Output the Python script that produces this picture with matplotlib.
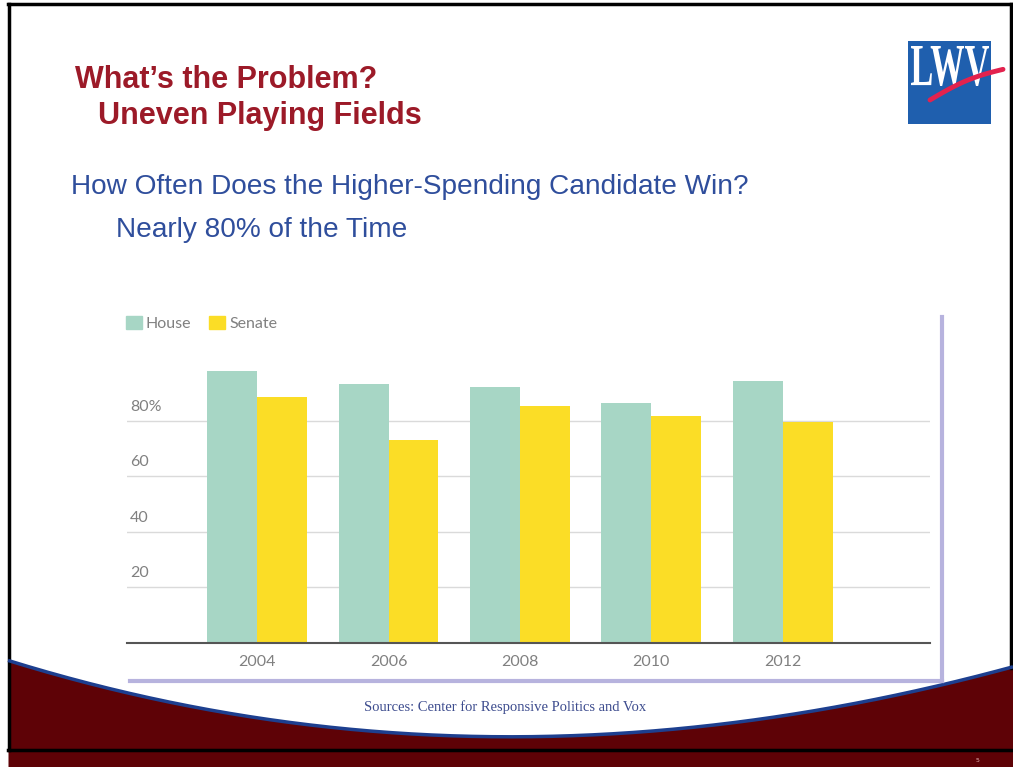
import numpy as np
import matplotlib
matplotlib.use("Agg")
import matplotlib.pyplot as plt
from matplotlib.patches import Rectangle, Patch, PathPatch
from matplotlib.textpath import TextPath
from matplotlib.font_manager import FontProperties
from matplotlib.transforms import Affine2D, ScaledTranslation

# share of races won by the higher-spending candidate (%)
years = ["2004", "2006", "2008", "2010", "2012"]
house = [97.8, 93.2, 92.1, 86.3, 94.2]
senate = [88.5, 73.0, 85.3, 81.7, 79.5]
grid_values = [20, 40, 60, 80]
grid_labels = ["20", "40", "60", "80%"]

W, H = 1013, 767
fig = plt.figure(figsize=(W / 100, H / 100), dpi=100)
fig.patch.set_facecolor("white")

# full-slide layer in pixel units (y grows downward)
bg = fig.add_axes([0, 0, 1, 1])
bg.set_xlim(0, W)
bg.set_ylim(H, 0)
bg.axis("off")

# slide border
bg.plot([8, 1011], [4, 4], color="black", lw=2.5)
bg.plot([9, 9], [4, 750], color="black", lw=2.5)
bg.plot([1011, 1011], [4, 668], color="black", lw=2.5)

# curved maroon footer
cx = [8, 100, 200, 300, 500, 700, 850, 1013]
cy = [657, 690, 712, 721, 733, 727, 708, 665]
coef = np.polyfit(cx, cy, 3)
xs = np.linspace(8, W, 300)
ys = np.polyval(coef, xs)
bg.fill_between(xs, ys, H, color="#5e0206", lw=0)
bg.plot(xs, ys, color="#1d3f8f", lw=2.5, solid_capstyle="butt")
bg.plot([8, W], [750, 750], color="black", lw=2.5)
bg.text(978, 760, "5", color="#e6b4b4", fontsize=4.5, ha="center", va="center")

# LWV logo
bg.add_patch(Rectangle((908, 41), 83, 83, color="#1f5fae", lw=0))
fp = FontProperties(family="Liberation Serif", weight="bold")
tp = TextPath((0, 0), "LWV", size=1, prop=fp)
ext = tp.get_extents()
sx = 78 / ext.width
sy = 40 / ext.height
tr = Affine2D().translate(-ext.x0, -ext.y0).scale(sx, -sy).translate(911, 86)
bg.add_patch(PathPatch(tr.transform_path(tp), color="white", lw=0))
sw_x = np.linspace(930, 1003, 30)
sw_y = 100 - (sw_x - 930) * 0.42 - 4 * np.sin((sw_x - 930) / 73 * np.pi)
bg.plot(sw_x, sw_y, color="#e3224e", lw=3.5, solid_capstyle="round")

# headings
title_kw = dict(family="Liberation Sans", weight="bold", color="#9c1a28",
                fontsize=22, va="center", ha="left")
bg.text(75, 80, "What\u2019s the Problem?", **title_kw)
bg.text(98, 116, "Uneven Playing Fields", **title_kw)
sub_kw = dict(family="Liberation Sans", color="#2f4e9c", fontsize=20.2,
              va="center", ha="left")
bg.text(71, 187, "How Often Does the Higher-Spending Candidate Win?", **sub_kw)
bg.text(116, 230, "Nearly 80% of the Time", **sub_kw)

bg.text(505, 707, "Sources: Center for Responsive Politics and Vox",
        family="Liberation Serif", color="#3d4c8e", fontsize=10.5,
        ha="center", va="center")

# chart frame shadow
bg.plot([942, 942], [317, 681], color="#b7b3de", lw=3)
bg.plot([130, 942], [681, 681], color="#b7b3de", lw=3)

# bar chart
ax = fig.add_axes([127 / W, (H - 643) / H, 803 / W, 278 / H])
ax.patch.set_alpha(0)
x = np.arange(len(years))
bw = 0.38
ax.bar(x - bw / 2, house, bw, color="#a7d6c5", label="House", zorder=3)
ax.bar(x + bw / 2, senate, bw, color="#fbdd26", label="Senate", zorder=3)
ax.set_xlim(-0.99, 5.12)
ax.set_ylim(0, 100)

for v in grid_values:
    ax.axhline(v, color="#dadada", lw=1, zorder=1)

lab_off = ScaledTranslation(0, 14 / 100, fig.dpi_scale_trans)
for v, lab in zip(grid_values, grid_labels):
    ax.text(0.004, v, lab, transform=ax.get_yaxis_transform() + lab_off,
            family="Lato", fontsize=11.5, color="#808080",
            ha="left", va="center")

ax.set_yticks([])
ax.set_xticks(x, years, family="Lato", fontsize=11.5, color="#808080")
ax.tick_params(axis="x", length=0, pad=9)
for s in ["left", "right", "top"]:
    ax.spines[s].set_visible(False)
ax.spines["bottom"].set_color("#555555")
ax.spines["bottom"].set_linewidth(1.5)
ax.spines["bottom"].set_zorder(4)

handles = [Patch(color="#a7d6c5", label="House"),
           Patch(color="#fbdd26", label="Senate")]
leg = ax.legend(handles=handles, loc="upper left", ncol=2, frameon=False,
                bbox_to_anchor=(126, 316), bbox_transform=bg.transData,
                borderpad=0, borderaxespad=0, handlelength=1.0,
                handleheight=0.9, handletextpad=0.25, columnspacing=1.1,
                prop=dict(family="Lato", size=11.5))
for t in leg.get_texts():
    t.set_color("#808080")

fig.savefig("out.png", dpi=100)
